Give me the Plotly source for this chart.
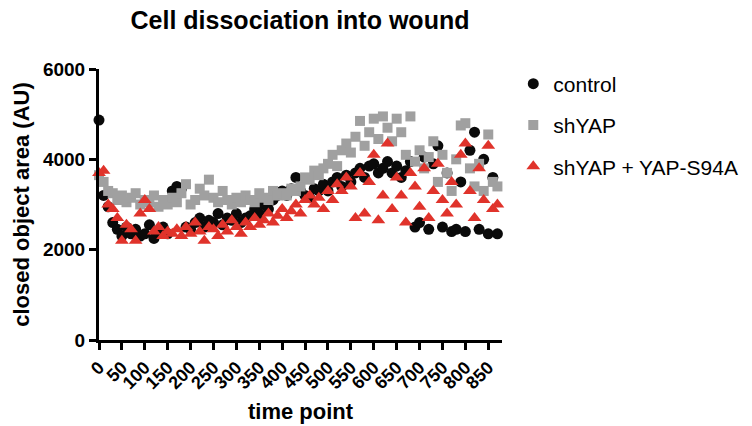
import plotly.graph_objects as go

time_points = list(range(0, 880, 10))

control = [4870, 3200, 2950, 2600, 2450, 2300, 2500, 2350, 2450, 2300,
           2350, 2550, 2250, 2400, 2500, 2350, 3300, 3400, 3350, 2500,
           2450, 2600, 2700, 2500, 2650, 2600, 2800, 2550, 2700, 2650,
           2800, 2600, 2700, 2750, 2900, 2800, 3000, 2900, 3100, 3200,
           3300, 3200, 3350, 3600, 3300, 3200, 3150, 3350, 3300, 3450,
           3300, 3500, 3600, 3400, 3650, 3500, 3700, 3800, 3600, 3850,
           3900, 3700, 3800, 3950, 3700, 3850, 3600, 3750, 3950, 2500,
           2600, 4050, 2450, 3900, 4300, 2500, 3700, 2400, 2450, 3500,
           2400, 4200, 4600, 2450, 4000, 2350, 3600, 2350]

shYAP = [3650, 3500, 3300, 3250, 3100, 3200, 3050, 3150, 3250, 3000,
         3100, 3050, 3200, 2950, 3100, 3000, 3150, 3050, 3250, 3450,
         3000, 3100, 3350, 3200, 3550, 3150, 3050, 3300, 3100, 3000,
         3150, 3050, 3200, 3100, 3050, 3250, 3150, 3100, 3300, 3200,
         3250, 3200, 3350, 3300, 3400, 3600, 3550, 3750, 3650, 3800,
         3900, 4100, 3850, 4200, 4350, 4150, 4500, 4850, 4300, 4600,
         4900, 4450, 4950, 4700, 4400, 4900, 4600, 4100, 4950, 3950,
         4200, 3800, 4050, 4400, 3500, 4100, 3700, 3300, 4000, 4750,
         4800, 3800, 3400, 3900, 3300, 4550, 3500, 3400]

shYAP_S94A = [3700, 3750, 3000, 2900, 2700, 2200, 2550, 2450, 2200, 2800,
              3100, 2900, 2400, 2500, 2300, 2400, 2350, 2450, 2300, 2500,
              2350, 2600, 2400, 2200, 2500, 2450, 2300, 2550, 2400, 2650,
              2500, 2350, 2600, 2500, 2700, 2550, 2650, 2800, 2600, 2750,
              2900, 2700, 2850, 3000, 2800, 3100, 3200, 3000, 3150, 2900,
              3300, 3100, 3450, 3300, 3600, 3400, 2700, 3700, 2800, 3500,
              4100, 2650, 3200, 4350, 2900, 3600, 3200, 2600, 3700, 3400,
              2950, 3800, 2700, 3300, 3900, 3100, 2800, 3500, 3000, 4100,
              4350, 3300, 2700, 3800, 3100, 4300, 2900, 3000]

x_ticks = list(range(0, 900, 50))
y_ticks = [0, 2000, 4000, 6000]

FONT = "Liberation Sans, Arial, sans-serif"

fig = go.Figure()
fig.add_trace(go.Scatter(x=time_points, y=control, mode="markers", name="control",
                         legendgroup="a",
                         marker=dict(symbol="circle", size=11, color="#0a0a0a"),
                         cliponaxis=False))
fig.add_trace(go.Scatter(x=time_points, y=shYAP, mode="markers", name="shYAP",
                         legendgroup="b",
                         marker=dict(symbol="square", size=10, color="#a0a0a0"),
                         cliponaxis=False))
fig.add_trace(go.Scatter(x=time_points, y=shYAP_S94A, mode="markers", name="shYAP + YAP-S94A",
                         legendgroup="c",
                         marker=dict(symbol="triangle-up", size=12, color="#e0332b"),
                         cliponaxis=False))

fig.update_layout(
    width=752, height=426,
    margin=dict(l=99, r=250, t=69, b=86, autoexpand=False),
    paper_bgcolor="white", plot_bgcolor="white",
    font=dict(family=FONT, color="black"),
    title=dict(text="Cell dissociation into wound", x=(300 / 752), xanchor="center",
               y=0.972, yanchor="top",
               font=dict(family=FONT, size=25, weight=700, color="black")),
    legend=dict(x=1.028, y=1.02, xanchor="left", yanchor="top",
                font=dict(family=FONT, size=21, color="black"),
                tracegroupgap=11, bgcolor="rgba(0,0,0,0)"),
    showlegend=True,
)

fig.update_xaxes(range=[0, 880], tickvals=x_ticks, ticktext=[str(v) for v in x_ticks],
                 tickangle=-45, showline=True, linewidth=3, linecolor="black",
                 ticks="outside", ticklen=7, tickwidth=3, tickcolor="black",
                 showgrid=False, zeroline=False,
                 tickfont=dict(family=FONT, size=18, weight=700, color="black"),
                 title=dict(text="time point", standoff=12,
                            font=dict(family=FONT, size=22, weight=700, color="black")))
fig.update_yaxes(range=[0, 6000], tickvals=y_ticks, ticktext=[str(v) for v in y_ticks],
                 showline=True, linewidth=3, linecolor="black",
                 ticks="outside", ticklen=7, tickwidth=3, tickcolor="black",
                 showgrid=False, zeroline=False,
                 tickfont=dict(family=FONT, size=19, weight=700, color="black"),
                 title=dict(text="closed object area (AU)", standoff=8,
                            font=dict(family=FONT, size=22, weight=700, color="black")))

fig.write_html("out.html")
